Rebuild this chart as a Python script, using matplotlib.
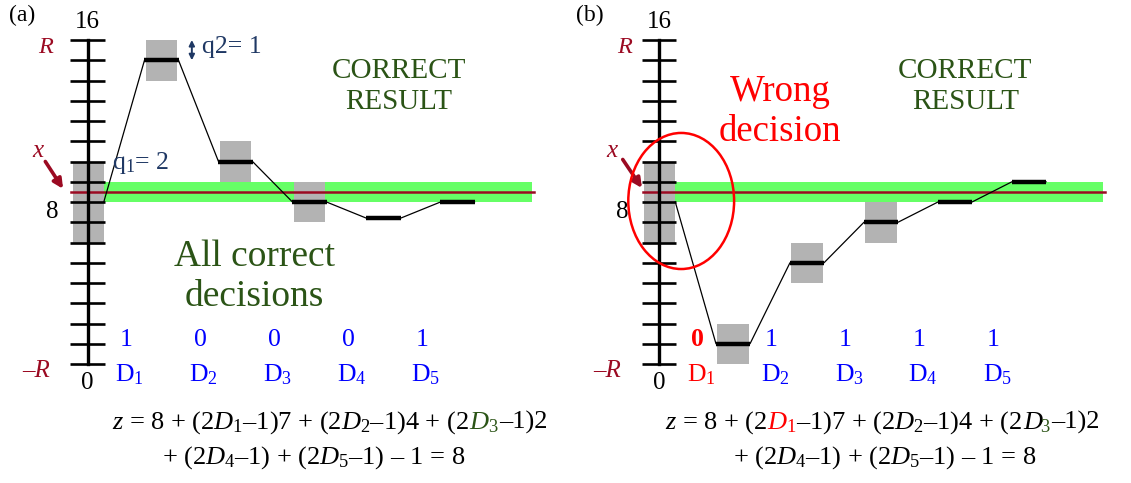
"""
Two-panel sketch of a successive-approximation search: the running sum z
after each binary decision, with the tolerance boxes q1/q2 and the band
that contains the true value x.
"""

import matplotlib.pyplot as plt
from matplotlib.patches import Rectangle, Ellipse
from matplotlib.offsetbox import TextArea, HPacker, AnnotationBbox

plt.rcParams['font.family'] = ['Liberation Serif', 'DejaVu Serif']
plt.rcParams['mathtext.fontset'] = 'custom'
plt.rcParams['mathtext.rm'] = 'Liberation Serif'
plt.rcParams['mathtext.it'] = 'Liberation Serif:italic'

# scale and search data
y_ticks = list(range(0, 17))
steps = [1, 2, 3, 4, 5]
z_start = 8
x_true = 8.5
band = (8, 9)
q1 = 2
q2 = 1
boxed_steps = [1, 2, 3]

decisions_a = [1, 0, 0, 0, 1]
levels_a = [15, 10, 8, 7.2, 8]

decisions_b = [0, 1, 1, 1, 1]
levels_b = [1, 5, 7, 8, 9]

DARK_RED = '#9b0a22'
NAVY = '#1f3864'
DARK_GREEN = '#2b5416'
BLUE = '#0000ff'
RED = '#ff0000'
GRAY = '#b3b3b3'
LIME = '#66ff66'

W, H = 1131, 483
PX_X, PX_V, TOP_PX = 74.0, 20.25, 40.0
SEG = 0.23
BOX = 0.215
EQ_SIZE = 19


def make_axes(fig, left_px, axis_px):
    ax = fig.add_axes([left_px / W, 0, 565.5 / W, 1])
    ax.set_xlim(-(axis_px - left_px) / PX_X, (left_px + 565.5 - axis_px) / PX_X)
    ax.set_ylim(16 - (H - TOP_PX) / PX_V, 16 + TOP_PX / PX_V)
    ax.axis('off')
    return ax


def draw_panel(ax, levels, decisions, bit_colors, label_colors, bold_first=False):
    # band around x and the tolerance box at the start value
    ax.add_patch(Rectangle((0.22, band[0]), 6.0 - 0.22, band[1] - band[0],
                           color=LIME, lw=0, zorder=1))
    ax.add_patch(Rectangle((-0.2, z_start - q1), 0.42, 2 * q1,
                           color=GRAY, lw=0, zorder=2))
    for k in boxed_steps:
        lv = levels[k - 1]
        ax.add_patch(Rectangle((k - BOX, lv - q2), 2 * BOX, 2 * q2,
                               color=GRAY, lw=0, zorder=2))
    ax.plot([-0.22, 6.03], [x_true, x_true], color=DARK_RED, lw=1.8, zorder=3)

    # vertical scale
    ax.plot([0, 0], [0, 16], color='k', lw=2.4, zorder=4)
    ax.hlines(y_ticks, -0.23, 0.23, color='k', lw=1.9, zorder=4)

    # path of z
    xs, ys = [0.22], [z_start]
    for k, lv in zip(steps, levels):
        xs += [k - SEG, k + SEG]
        ys += [lv, lv]
    ax.plot(xs, ys, color='k', lw=0.9, zorder=5)
    for k, lv in zip(steps, levels):
        ax.plot([k - SEG, k + SEG], [lv, lv], color='k', lw=3.2,
                solid_capstyle='butt', zorder=6)

    for i, (k, d) in enumerate(zip(steps, decisions)):
        weight = 'bold' if (bold_first and i == 0) else 'normal'
        ax.text(k - 0.48, 1.19, str(d), color=bit_colors[i], fontsize=18.5,
                fontweight=weight, ha='center', va='center', zorder=7)
        ax.text(k - 0.43, -0.55, 'D$_{%d}$' % k, color=label_colors[i],
                fontsize=18.5, ha='center', va='center', zorder=7)

    ax.text(0, 16.9, '16', fontsize=18, ha='center', va='center')
    ax.text(0, -0.95, '0', fontsize=18, ha='center', va='center')


def text_run(pieces, size=EQ_SIZE, sep=0):
    boxes = [TextArea(s, textprops=dict(color=c, fontsize=size)) for s, c in pieces]
    return HPacker(children=boxes, align='baseline', pad=0, sep=sep)


def place_line(fig, children, x, y):
    pack = HPacker(children=children, align='baseline', pad=0, sep=0)
    ab = AnnotationBbox(pack, (x, y), xycoords='figure fraction',
                        frameon=False, box_alignment=(0.5, 0.5))
    fig.add_artist(ab)


fig = plt.figure(figsize=(W / 100, H / 100), dpi=100)

# panel (a): all decisions correct
ax = make_axes(fig, 0, 87.5)
draw_panel(ax, levels_a, decisions_a, [BLUE] * 5, [BLUE] * 5)
ax.text(-0.89, 17.23, '(a)', fontsize=17, ha='center', va='center')
ax.text(-0.57, 15.65, 'R', fontsize=17.5, style='italic', color=DARK_RED,
        ha='center', va='center')
ax.text(-0.7, -0.35, '–R', fontsize=18, style='italic', color=DARK_RED,
        ha='center', va='center')
ax.text(-0.47, 7.5, '8', fontsize=18, ha='center', va='center')
ax.text(-0.67, 10.5, 'x', fontsize=18, style='italic', color=DARK_RED,
        ha='center', va='center')
ax.annotate('', xy=(-0.33, 8.65), xytext=(-0.57, 10.0),
            arrowprops=dict(arrowstyle='-|>', color=DARK_RED, lw=2.6,
                            mutation_scale=14, shrinkA=0, shrinkB=0))
ax.text(0.33, 9.93, 'q$_1$= 2', fontsize=18.5, color=NAVY, ha='left', va='center',
        zorder=7)
ax.annotate('', xy=(1.41, 16.0), xytext=(1.41, 15.0),
            arrowprops=dict(arrowstyle='<|-|>', color=NAVY, lw=1.4,
                            mutation_scale=8, shrinkA=0, shrinkB=0))
ax.text(1.55, 15.65, 'q2= 1', fontsize=18.5, color=NAVY, ha='left', va='center')
ax.text(4.21, 13.7, 'CORRECT\nRESULT', fontsize=21, color=DARK_GREEN,
        ha='center', va='center', linespacing=1.22)
ax.text(2.26, 4.3, 'All correct\ndecisions', fontsize=27, color=DARK_GREEN,
        ha='center', va='center', linespacing=1.2)

place_line(fig, [text_run([('$z$ = 8 + (2$D_1$–1)7 + (2$D_2$–1)4 + (2', 'k'),
                           ('$D_3$', DARK_GREEN), ('–1)2', 'k')])],
           330 / W, 1 - 423 / H)
place_line(fig, [text_run([('+ (2$D_4$–1) + (2$D_5$–1) – 1 = 8', 'k')])],
           314 / W, 1 - 458 / H)

# panel (b): first decision wrong
ax = make_axes(fig, 565.5, 659)
draw_panel(ax, levels_b, decisions_b, [RED] + [BLUE] * 4, [RED] + [BLUE] * 4,
           bold_first=True)
ax.text(-0.93, 17.23, '(b)', fontsize=17, ha='center', va='center')
ax.text(-0.47, 15.65, 'R', fontsize=17.5, style='italic', color=DARK_RED,
        ha='center', va='center')
ax.text(-0.7, -0.35, '–R', fontsize=18, style='italic', color=DARK_RED,
        ha='center', va='center')
ax.text(-0.5, 7.5, '8', fontsize=18, ha='center', va='center')
ax.text(-0.64, 10.5, 'x', fontsize=18, style='italic', color=DARK_RED,
        ha='center', va='center')
ax.annotate('', xy=(-0.23, 8.69), xytext=(-0.49, 10.1),
            arrowprops=dict(arrowstyle='-|>', color=DARK_RED, lw=2.6,
                            mutation_scale=14, shrinkA=0, shrinkB=0))
ax.text(4.14, 13.7, 'CORRECT\nRESULT', fontsize=21, color=DARK_GREEN,
        ha='center', va='center', linespacing=1.22)
ax.text(1.64, 12.45, 'Wrong\ndecision', fontsize=26.5, color=RED,
        ha='center', va='center', linespacing=1.2)
ax.add_patch(Ellipse((0.3, 8.05), 1.43, 6.72, fill=False, edgecolor=RED,
                     lw=1.8, zorder=8))

# D with a green subscript: pull the subscript back against the letter
d3_green = text_run([('$D$', 'k'), ('$_3$', DARK_GREEN)], sep=-2.5)
place_line(fig, [text_run([('$z$ = 8 + (2', 'k'), ('$D_1$', RED),
                           ('–1)7 + (2$D_2$–1)4 + (2', 'k')]),
                 d3_green, text_run([('–1)2', 'k')])],
           882 / W, 1 - 423 / H)
place_line(fig, [text_run([('+ (2$D_4$–1) + (2$D_5$–1) – 1 = 8', 'k')])],
           885 / W, 1 - 458 / H)

fig.savefig('out.png', dpi=100)
